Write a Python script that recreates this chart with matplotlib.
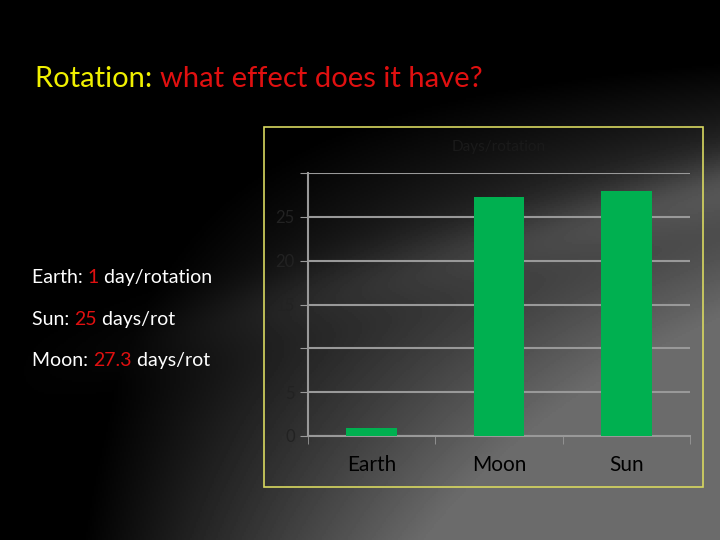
import numpy as np
import matplotlib.pyplot as plt

planets = ['Earth', 'Moon', 'Sun']
days = [0.95, 27.3, 27.9]
ytick_vals = [0, 5, 10, 15, 20, 25, 30]
ytick_labels = ['0', '5', '', '15', '20', '25', '']

plt.rcParams['font.family'] = ['Lato', 'DejaVu Sans']

fig = plt.figure(figsize=(7.2, 5.4), dpi=100)

# dark background with a lighter sweep towards the lower right
bg = fig.add_axes([0, 0, 1, 1])
yy, xx = np.mgrid[0:1:270j, 0:1:360j]
shade = np.clip(0.55 * xx * yy * 1.6 - 0.1, 0, 0.42)
shade += 0.12 * np.exp(-((yy - 0.35 - 0.35 * (1 - xx)) ** 2) / 0.004) * xx
bg.imshow(np.clip(shade, 0, 0.5), cmap='gray', vmin=0, vmax=1, extent=[0, 1, 0, 1], aspect='auto')
bg.set_xlim(0, 1)
bg.set_ylim(0, 1)
bg.axis('off')

# yellow chart frame
frame = plt.Rectangle((264 / 720, 1 - 487 / 540), 439 / 720, 360 / 540, fill=False,
                      edgecolor='#d8d860', linewidth=1.2, transform=fig.transFigure)
fig.patches.append(frame)

fig.canvas.draw()
renderer = fig.canvas.get_renderer()


def colored_line(x, y, parts, size):
    for txt, col in parts:
        t = fig.text(x, y, txt, color=col, fontsize=size, va='baseline')
        bb = t.get_window_extent(renderer=renderer)
        x += bb.width / fig.bbox.width


colored_line(35 / 720, 1 - 87 / 540, [('Rotation: ', '#f0f000'), ('what effect does it have?', '#e01010')], 21)
colored_line(32 / 720, 1 - 283 / 540, [('Earth: ', 'white'), ('1', '#e01010'), (' day/rotation', 'white')], 14)
colored_line(32 / 720, 1 - 325 / 540, [('Sun: ', 'white'), ('25', '#e01010'), (' days/rot', 'white')], 14)
colored_line(32 / 720, 1 - 366 / 540, [('Moon: ', 'white'), ('27.3', '#e01010'), (' days/rot', 'white')], 14)

ax = fig.add_axes([308 / 720, 1 - 436 / 540, 382 / 720, 263 / 540])
ax.patch.set_alpha(0)
x = np.arange(len(planets))
ax.bar(x, days, width=0.4, color='#00b050', zorder=3)
ax.set_xlim(-0.5, 2.5)
ax.set_ylim(0, 30)
ax.set_yticks(ytick_vals)
ax.set_yticklabels(ytick_labels, color='#222222', fontsize=12)
ax.set_xticks(x)
ax.set_xticklabels(planets, color='black', fontsize=15)
ax.set_xticks([-0.5, 0.5, 1.5, 2.5], minor=True)
ax.tick_params(axis='x', which='major', length=0, pad=14)
ax.tick_params(axis='x', which='minor', length=6, color='#999999')
ax.tick_params(axis='y', length=6, color='#999999')
ax.grid(axis='y', color='#999999', linewidth=1.5, zorder=0)
for s in ['top', 'right']:
    ax.spines[s].set_visible(False)
for s in ['left', 'bottom']:
    ax.spines[s].set_color('#999999')
    ax.spines[s].set_linewidth(1.5)
ax.set_title('Days/rotation', color='#1a1a1a', fontsize=11, pad=16)

fig.savefig('out.png', dpi=100)
